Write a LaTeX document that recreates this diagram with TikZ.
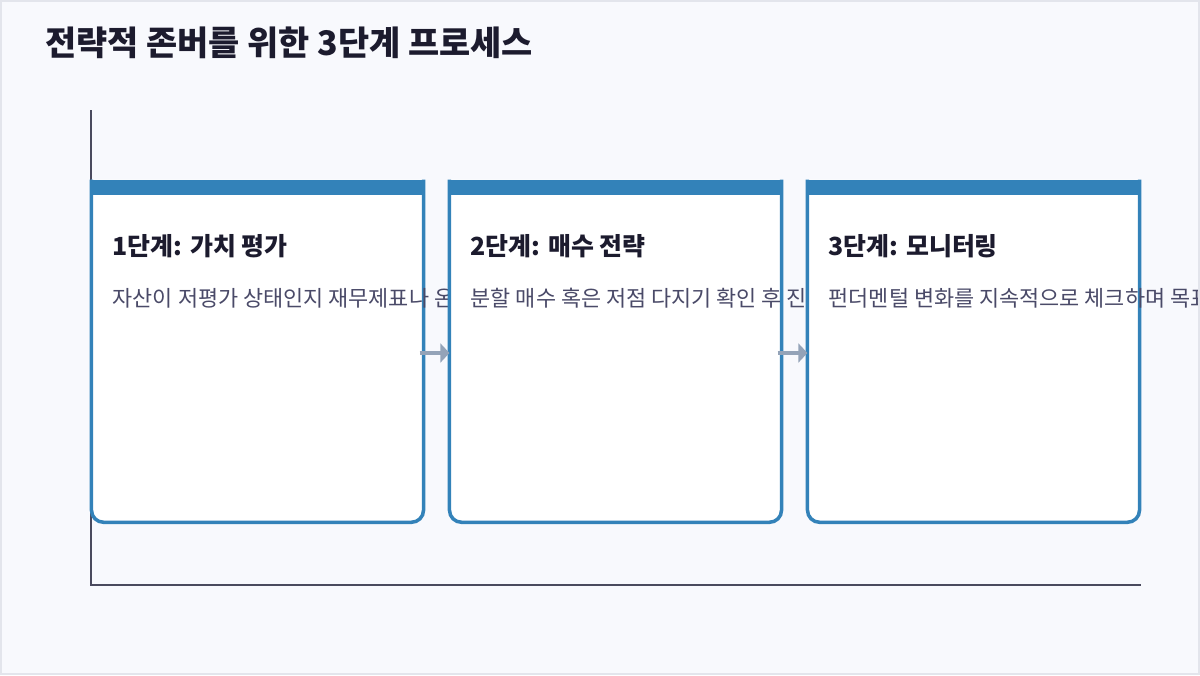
\documentclass[tikz,border=0pt]{standalone}
\usepackage{fontspec}
\setmainfont{Noto Sans CJK KR}
\usepackage{tikz}
\usetikzlibrary{arrows.meta}
\definecolor{pagebg}{HTML}{F8F9FD}
\definecolor{pageline}{HTML}{E3E5EC}
\definecolor{cardblue}{HTML}{3382B9}
\definecolor{headink}{HTML}{1C1B2E}
\definecolor{descink}{HTML}{4A4A68}
\definecolor{axisink}{HTML}{4A4A5E}
\definecolor{flowgray}{HTML}{94A3B8}

\begin{document}
\begin{tikzpicture}[x=0.75pt,y=-0.75pt,
    cardbox/.style={minimum width=248.625pt,minimum height=256.5pt,inner sep=0pt},
    cardline/.style={draw=cardblue,fill=white,line width=2.625pt,rounded corners=9pt},
    heading/.style={anchor=base west,inner sep=0pt,text=headink,font=\fontsize{25.4}{30}\selectfont\bfseries},
    steptitle/.style={anchor=base west,inner sep=0pt,text=headink,font=\fontsize{18.7}{22}\selectfont\bfseries},
    stepdesc/.style={anchor=base west,inner sep=0pt,text=descink,font=\fontsize{16.4}{20}\selectfont},
    flow/.style={draw=flowgray,line width=3pt,shorten <=-3pt,-{Triangle[length=6.75pt,width=14pt]}},
    axis/.style={draw=axisink,line width=1.5pt}]
                \useasboundingbox (0,0) rectangle (1200,675);
                \fill [pagebg] (0,0) rectangle (1200,675);
                \node [heading] (heading) at (45,55) {전략적 존버를 위한 3단계 프로세스};
                \coordinate (ytop) at (91,110);
                \coordinate (origin) at (91,585);
                \coordinate (xend) at (1141,585);
                \draw [axis] (ytop) -- (origin) -- (xend);
                \node [cardbox] (card1) at (257.5,351) {};
                \filldraw [cardline] (card1.north west) -- (card1.south west) -- (card1.south east) -- (card1.north east);
                \fill [cardblue] ([shift={(-1.75,0)}]card1.north west) rectangle ([shift={(1.75,15)}]card1.north east);
                \node [steptitle] (title1) at ([shift={(21,76)}]card1.north west) {1단계: 가치 평가};
                \node [stepdesc] (desc1) at ([shift={(21,127)}]card1.north west) {자산이 저평가 상태인지 재무제표나 온};
                \node [cardbox] (card2) at (615.5,351) {};
                \filldraw [cardline] (card2.north west) -- (card2.south west) -- (card2.south east) -- (card2.north east);
                \fill [cardblue] ([shift={(-1.75,0)}]card2.north west) rectangle ([shift={(1.75,15)}]card2.north east);
                \node [steptitle] (title2) at ([shift={(21,76)}]card2.north west) {2단계: 매수 전략};
                \node [stepdesc] (desc2) at ([shift={(21,127)}]card2.north west) {분할 매수 혹은 저점 다지기 확인 후 진};
                \node [cardbox] (card3) at (973.5,351) {};
                \filldraw [cardline] (card3.north west) -- (card3.south west) -- (card3.south east) -- (card3.north east);
                \fill [cardblue] ([shift={(-1.75,0)}]card3.north west) rectangle ([shift={(1.75,15)}]card3.north east);
                \node [steptitle] (title3) at ([shift={(21,76)}]card3.north west) {3단계: 모니터링};
                \node [stepdesc] (desc3) at ([shift={(21,127)}]card3.north west) {펀더멘털 변화를 지속적으로 체크하며 목표};
                \draw [flow] ([yshift=-1.5pt]card1.east) -- ([yshift=-1.5pt]card2.west);
                \draw [flow] ([yshift=-1.5pt]card2.east) -- ([yshift=-1.5pt]card3.west);
                \draw [pageline,line width=1.5pt] (1,1) rectangle (1199,674);
\end{tikzpicture}
\end{document}
